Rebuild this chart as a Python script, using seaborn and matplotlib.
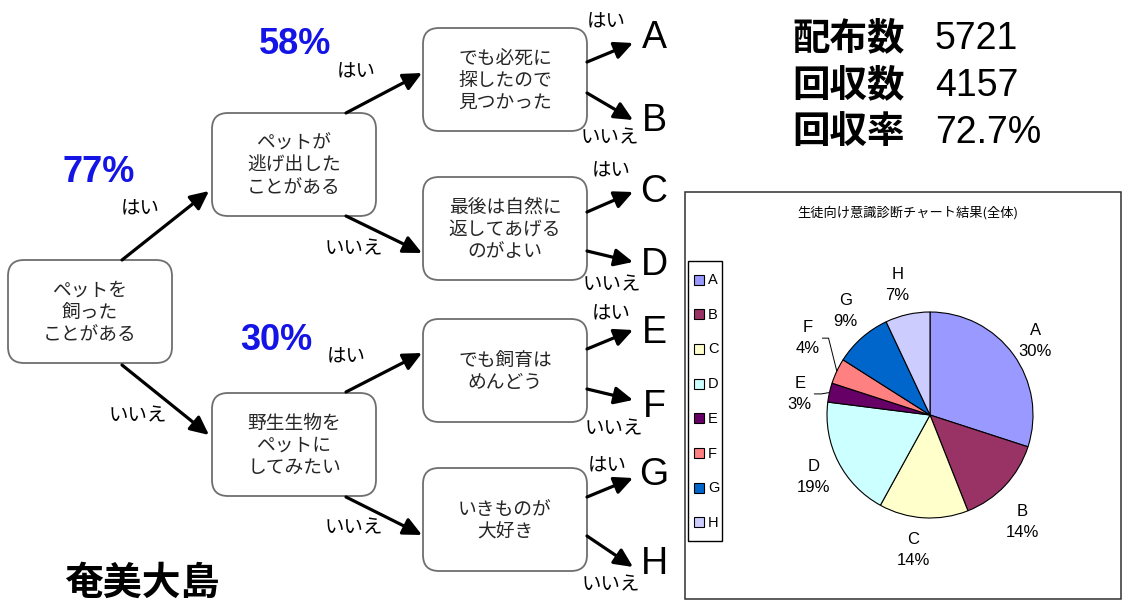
import matplotlib
matplotlib.use("Agg")
import matplotlib.pyplot as plt
import numpy as np
import seaborn as sns
from matplotlib.patches import FancyBboxPatch, Rectangle

sns.set_theme(style="white")
plt.rcParams["font.family"] = ["Noto Sans CJK JP", "DejaVu Sans"]

# ---- data -------------------------------------------------------------
outcomes = ["A", "B", "C", "D", "E", "F", "G", "H"]
shares = [30, 14, 14, 19, 3, 4, 9, 7]
slice_colors = ["#9999FF", "#993366", "#FFFFCC", "#CCFFFF",
                "#660066", "#FF8080", "#0066CC", "#CCCCFF"]
branch_rates = ["77%", "58%", "30%"]
survey_labels = ["配布数", "回収数", "回収率"]
survey_values = ["5721", "4157", "72.7%"]
questions = [
    "ペットを\n飼った\nことがある",
    "ペットが\n逃げ出した\nことがある",
    "野生生物を\nペットに\nしてみたい",
    "でも必死に\n探したので\n見つかった",
    "最後は自然に\n返してあげる\nのがよい",
    "でも飼育は\nめんどう",
    "いきものが\n大好き",
]
yes_label, no_label = "はい", "いいえ"
chart_title = "生徒向け意識診断チャート結果(全体)"
region_name = "奄美大島"

LATIN = ["Liberation Sans", "Noto Sans CJK JP"]
CJK = ["Noto Sans CJK JP", "DejaVu Sans"]

# ---- canvas in pixel units ---------------------------------------------
W, H = 1123, 601
fig = plt.figure(figsize=(W / 100, H / 100), dpi=100)
fig.patch.set_facecolor("white")
ax = fig.add_axes([0, 0, 1, 1])
ax.set_xlim(0, W)
ax.set_ylim(H, 0)
ax.axis("off")

BOX_W, BOX_H = 164, 103
box_origins = [(8, 260), (212, 113), (212, 393),
               (423, 28), (423, 177), (423, 319), (423, 468)]

for (x0, y0), txt in zip(box_origins, questions):
    ax.add_patch(FancyBboxPatch((x0, y0), BOX_W, BOX_H,
                                boxstyle="round,pad=0,rounding_size=16",
                                fc="white", ec="#6e6e6e", lw=1.3, zorder=2))
    ax.text(x0 + BOX_W / 2, y0 + BOX_H / 2 + 1, txt, ha="center", va="center",
            fontsize=13.5, color="#262626", family=CJK, linespacing=1.08,
            zorder=3)


def arrow(p0, p1):
    ax.annotate("", xy=p1, xytext=p0,
                arrowprops=dict(arrowstyle="-|>,head_length=0.8,head_width=0.38",
                                lw=2.3, color="black", shrinkA=0, shrinkB=0,
                                mutation_scale=14), zorder=4)


def answer(x, y, s):
    ax.text(x, y, s, ha="center", va="center", fontsize=14, color="black",
            family=CJK, zorder=5)


# first and second level branches
arrow((122, 260), (209, 191)); answer(140, 209, yes_label)
arrow((122, 365), (209, 435)); answer(138, 416, no_label)
arrow((346, 113), (422, 73)); answer(356, 72, yes_label)
arrow((346, 216), (422, 253)); answer(354, 249, no_label)
arrow((346, 392), (422, 353)); answer(346, 357, yes_label)
arrow((346, 497), (422, 535)); answer(354, 528, no_label)

# branch percentages
for (x, y), s in zip([(99, 172), (295, 45), (276, 341)], branch_rates):
    ax.text(x, y, s, ha="center", va="center", fontsize=26, fontweight="bold",
            color="#1414E6", family=LATIN)

# final outcomes A..H
leaf_arrows = [((587, 62), (633, 43)), ((587, 93), (633, 120)),
               ((587, 212), (633, 192)), ((587, 251), (633, 262)),
               ((587, 349), (633, 330)), ((587, 389), (633, 400)),
               ((587, 497), (633, 478)), ((587, 536), (633, 567))]
answer_pos = [(606, 22), (610, 138), (611, 171), (612, 285),
              (611, 314), (614, 429), (607, 466), (611, 585)]
letter_y = [38, 121, 192, 265, 333, 407, 475, 564]
for i, (name, (p0, p1), apos, ly) in enumerate(zip(outcomes, leaf_arrows,
                                                   answer_pos, letter_y)):
    arrow(p0, p1)
    answer(apos[0], apos[1], yes_label if i % 2 == 0 else no_label)
    ax.text(654, ly, name, ha="center", va="center", fontsize=27,
            color="black", family=LATIN)

# region name
ax.text(142, 583, region_name, ha="center", va="center", fontsize=28,
        fontweight="bold", color="black", family=CJK)

# survey figures
for i, (lab, val) in enumerate(zip(survey_labels, survey_values)):
    y = 38 + 47 * i
    ax.text(792, y, lab, ha="left", va="center", fontsize=27,
            fontweight="bold", color="black", family=CJK)
    ax.text(935, y + 1, val, ha="left", va="center", fontsize=27,
            color="black", family=LATIN)

# ---- pie chart panel ----------------------------------------------------
ax.add_patch(Rectangle((685, 192), 436, 407, fc="white", ec="#303030",
                       lw=1.1, zorder=1))
ax.text(908, 213, chart_title, ha="center", va="center", fontsize=9.5,
        color="black", family=CJK)

# legend
ax.add_patch(Rectangle((688, 261), 34, 280, fc="white", ec="black",
                       lw=1.0, zorder=2))
for i, (name, col) in enumerate(zip(outcomes, slice_colors)):
    yc = 280 + 34.7 * i
    ax.add_patch(Rectangle((694, yc - 5.5), 10, 10, fc=col, ec="black",
                           lw=0.8, zorder=3))
    ax.text(708, yc, name, ha="left", va="center", fontsize=10.5,
            color="black", family=LATIN, zorder=3)

cx, cy, r = 930, 415, 103
pax = fig.add_axes([(cx - r) / W, (H - cy - r) / H, 2 * r / W, 2 * r / H])
pax.set_facecolor("none")
wedges, _ = pax.pie(shares, colors=sns.color_palette(slice_colors),
                    startangle=90, counterclock=False,
                    wedgeprops=dict(edgecolor="black", linewidth=0.8))
pax.set_xlim(-1, 1)
pax.set_ylim(-1, 1)
pax.axis("off")

# label placement per slice: (angle offset in degrees, radial distance)
label_place = [(-1, 1.25), (-6, 1.37), (-3.5, 1.32), (1, 1.28),
               (3.4, 1.28), (-7, 1.40), (-2.4, 1.30), (1.4, 1.30)]
for w, name, v, (dth, d) in zip(wedges, outcomes, shares, label_place):
    mid = (w.theta1 + w.theta2) / 2
    th = np.deg2rad(mid + dth)
    lx, ly = d * np.cos(th), d * np.sin(th)
    pax.text(lx, ly, f"{name}\n{v}%", ha="center", va="center", fontsize=12,
             linespacing=1.45, color="black", family=LATIN, clip_on=False)
    if v < 5:
        ex, ey = np.cos(np.deg2rad(mid)), np.sin(np.deg2rad(mid))
        pax.plot([ex, ex - 0.08, lx + 0.14], [ey, ly, ly],
                 color="black", lw=0.7, clip_on=False)

fig.savefig("out.png", dpi=100, facecolor="white")
